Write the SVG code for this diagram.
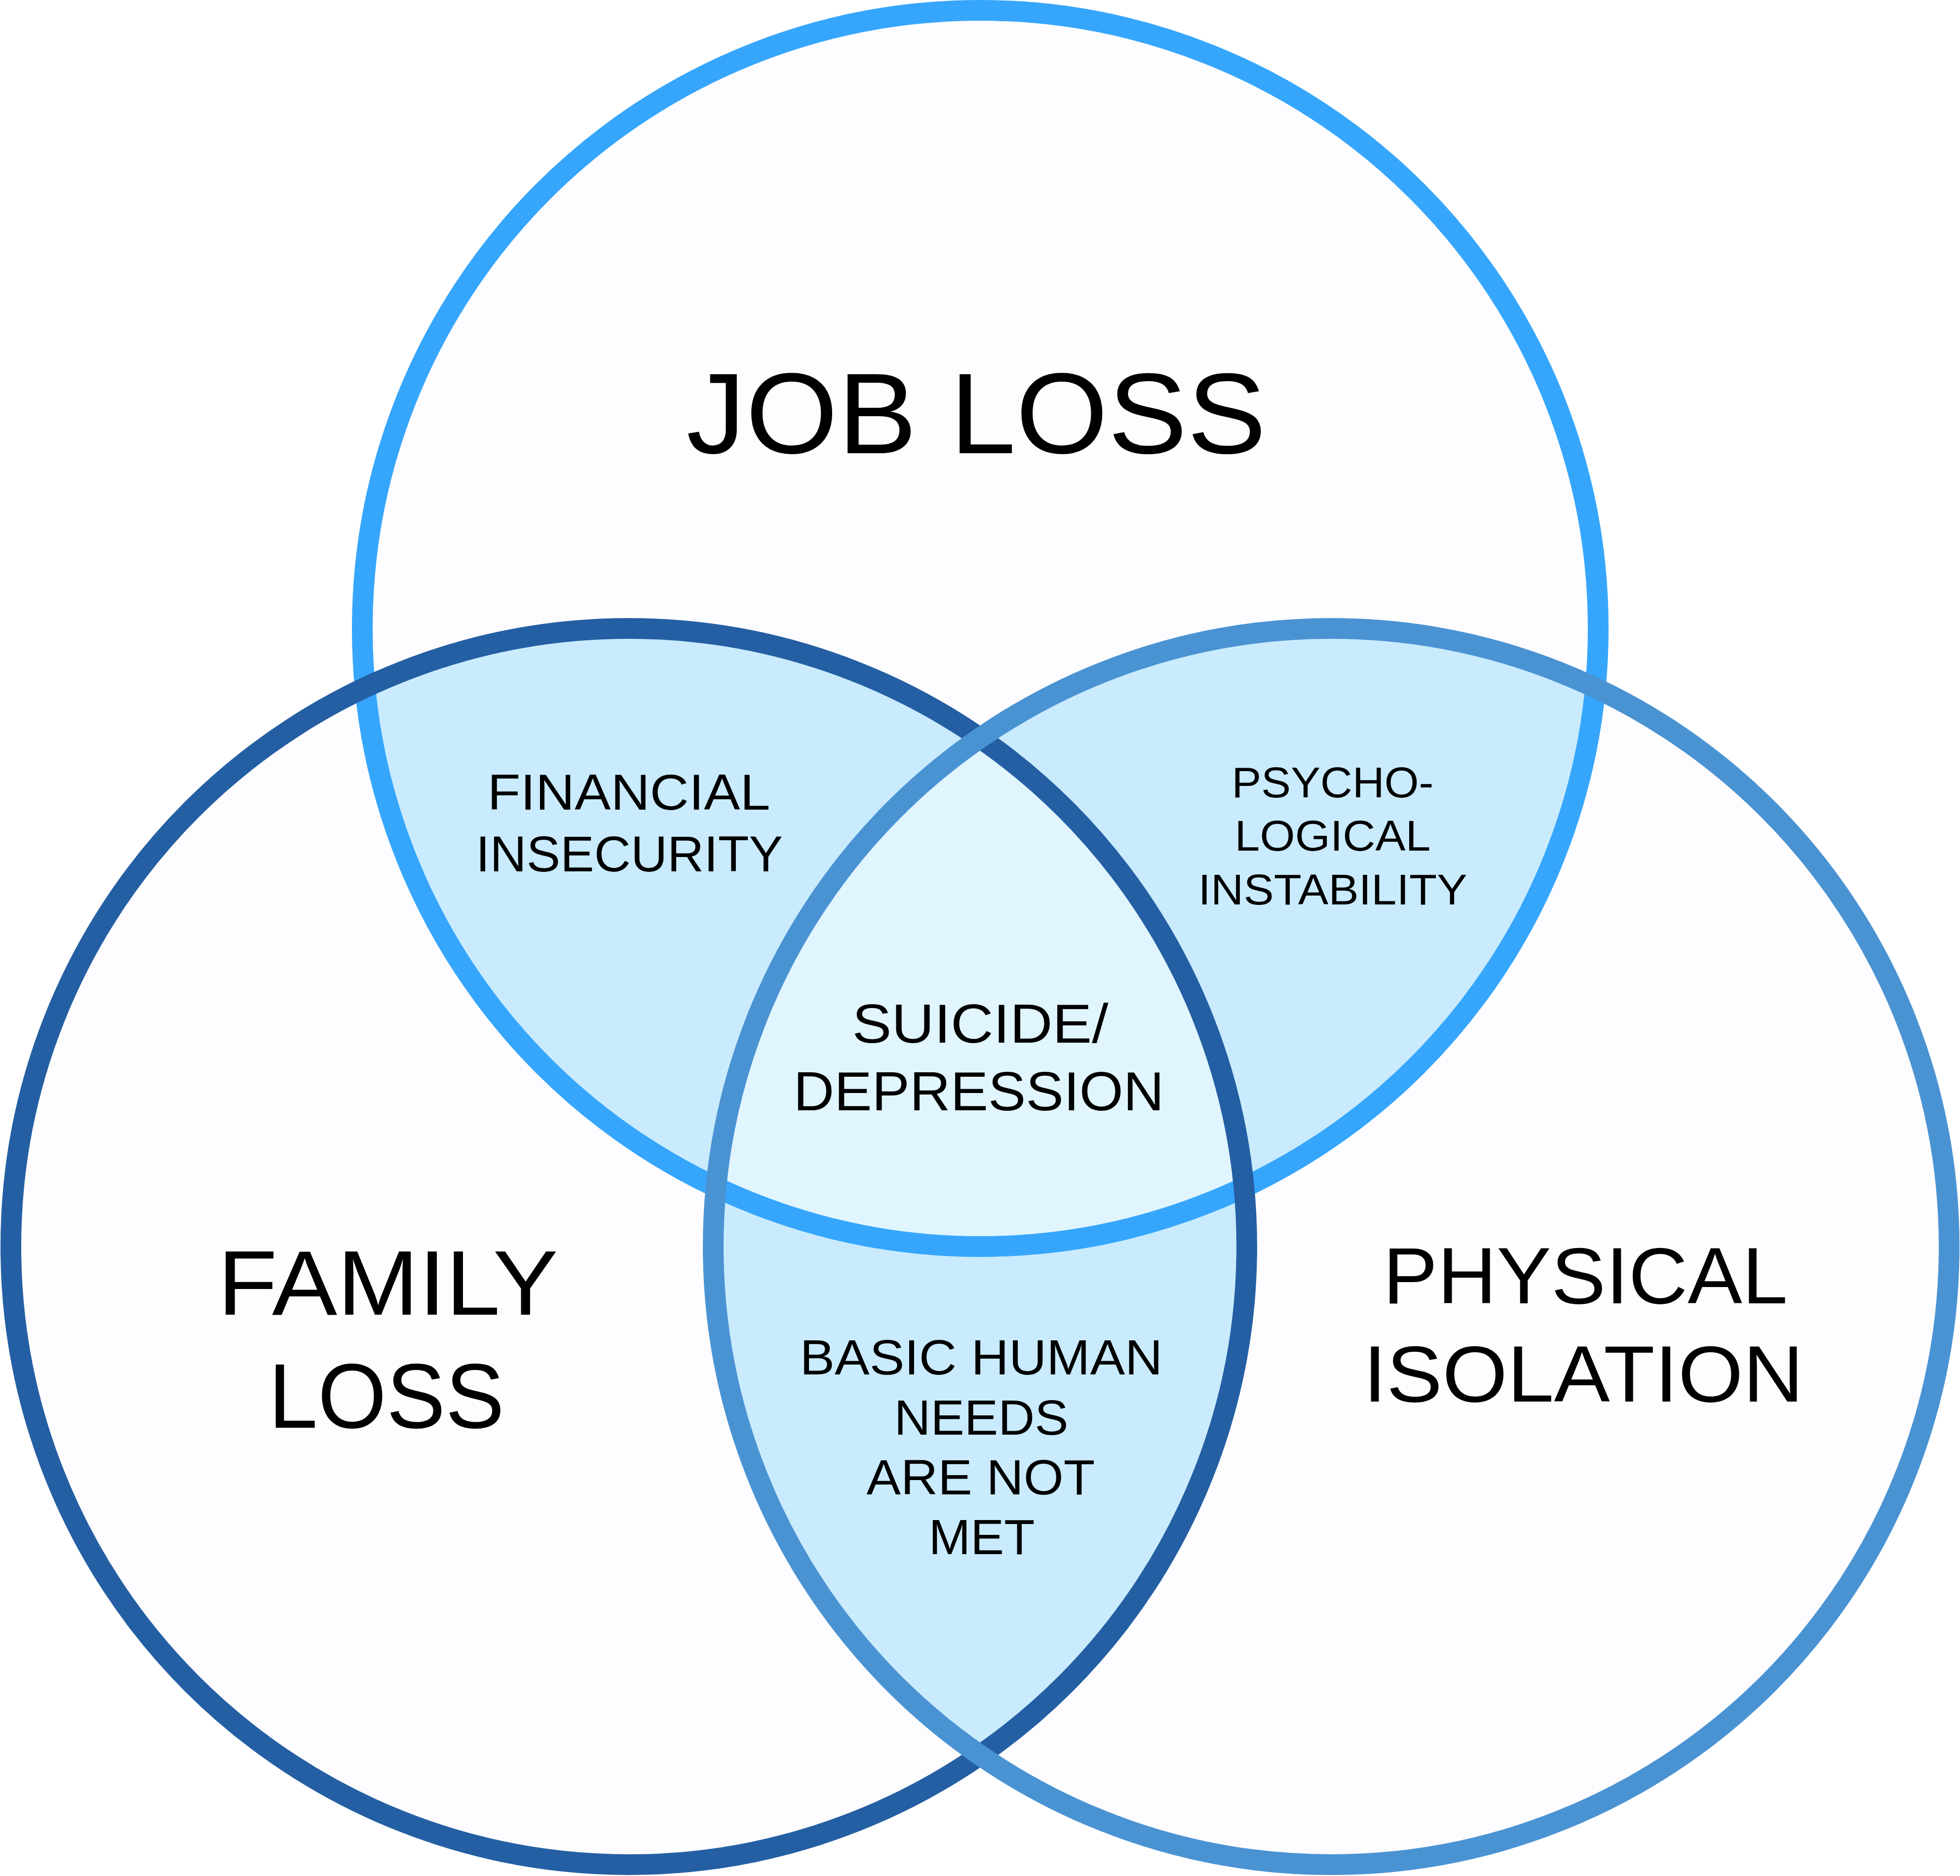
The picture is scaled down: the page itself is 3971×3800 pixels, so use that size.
<svg xmlns="http://www.w3.org/2000/svg" width="3971" height="3800" viewBox="0 0 3971 3800">
<style>
.base{fill:#FDFCFF}
.pair{fill:#C9EBFD}
.triple{fill:#E1F5FE}
.ring{fill:none;stroke-width:42}
.t{fill:#000;font-family:"Liberation Sans",Arial,sans-serif;font-weight:400;text-anchor:middle}
</style>
<defs>
<clipPath id="cT"><circle cx="1986" cy="1273" r="1252"/></clipPath>
<clipPath id="cL"><circle cx="1274" cy="2525" r="1252"/></clipPath>
</defs>
<rect width="3971" height="3800" fill="#FFFFFF"/>
<g id="fills">
<circle class="base" cx="1986" cy="1273" r="1252"/>
<circle class="base" cx="1274" cy="2525" r="1252"/>
<circle class="base" cx="2697" cy="2525" r="1252"/>
<g clip-path="url(#cT)">
<circle class="pair" cx="1274" cy="2525" r="1252"/>
<circle class="pair" cx="2697" cy="2525" r="1252"/>
</g>
<g clip-path="url(#cL)">
<circle class="pair" cx="2697" cy="2525" r="1252"/>
</g>
<g clip-path="url(#cT)"><g clip-path="url(#cL)">
<circle class="triple" cx="2697" cy="2525" r="1252"/>
</g></g>
</g>
<g id="job-loss">
<circle class="ring" cx="1986" cy="1273" r="1252" stroke="#36A6FC"/>
<text class="t" x="1978" y="918" font-size="232" textLength="1175" lengthAdjust="spacingAndGlyphs">JOB LOSS</text>
</g>
<g id="family-loss">
<circle class="ring" cx="1274" cy="2525" r="1252" stroke="#245FA3"/>
<text class="t" x="786" y="2663" font-size="186" textLength="690" lengthAdjust="spacingAndGlyphs">FAMILY</text>
<text class="t" x="783" y="2892" font-size="186" textLength="478" lengthAdjust="spacingAndGlyphs">LOSS</text>
</g>
<g id="physical-isolation">
<circle class="ring" cx="2697" cy="2525" r="1252" stroke="#4A93D3"/>
<text class="t" x="3212" y="2640" font-size="161" textLength="820" lengthAdjust="spacingAndGlyphs">PHYSICAL</text>
<text class="t" x="3208" y="2839" font-size="161" textLength="892" lengthAdjust="spacingAndGlyphs">ISOLATION</text>
</g>
<g id="financial-insecurity">
<text class="t" x="1274" y="1640" font-size="102" textLength="573" lengthAdjust="spacingAndGlyphs">FINANCIAL</text>
<text class="t" x="1275" y="1765" font-size="102" textLength="622" lengthAdjust="spacingAndGlyphs">INSECURITY</text>
</g>
<g id="psychological-instability">
<text class="t" x="2700" y="1615" font-size="88" textLength="409" lengthAdjust="spacingAndGlyphs">PSYCHO-</text>
<text class="t" x="2700" y="1723" font-size="88" textLength="397" lengthAdjust="spacingAndGlyphs">LOGICAL</text>
<text class="t" x="2700" y="1832" font-size="88" textLength="545" lengthAdjust="spacingAndGlyphs">INSTABILITY</text>
</g>
<g id="suicide-depression">
<text class="t" x="1986" y="2112" font-size="112" textLength="519" lengthAdjust="spacingAndGlyphs">SUICIDE/</text>
<text class="t" x="1983" y="2249" font-size="112" textLength="751" lengthAdjust="spacingAndGlyphs">DEPRESSION</text>
</g>
<g id="basic-human-needs">
<text class="t" x="1988" y="2784" font-size="100" textLength="735" lengthAdjust="spacingAndGlyphs">BASIC HUMAN</text>
<text class="t" x="1988" y="2906" font-size="100" textLength="353" lengthAdjust="spacingAndGlyphs">NEEDS</text>
<text class="t" x="1987" y="3027" font-size="100" textLength="463" lengthAdjust="spacingAndGlyphs">ARE NOT</text>
<text class="t" x="1989" y="3148" font-size="100" textLength="215" lengthAdjust="spacingAndGlyphs">MET</text>
</g>
<g id="connectors"/>
</svg>
